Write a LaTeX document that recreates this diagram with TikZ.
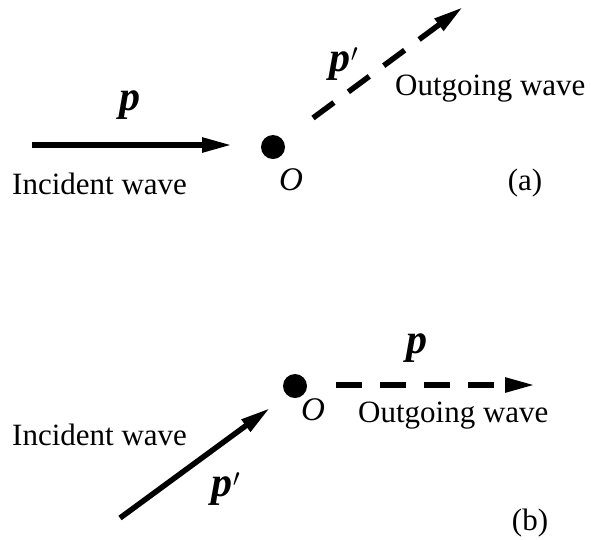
\documentclass[tikz,border=0pt]{standalone}
\usepackage{fontspec}
\setmainfont{Liberation Serif}
\usetikzlibrary{arrows.meta,positioning,calc}

\begin{document}
\begin{tikzpicture}[
    x=1pt, y=-1pt,
    wave/.style={line width=5.5pt, -{Triangle[length=30pt,width=14pt]}},
    outwave/.style={wave, dash pattern=on 26pt off 18pt},
    origin/.style={circle, fill=black, inner sep=0pt, minimum size=24pt},
    lbl/.style={font=\fontsize{31}{31}\selectfont, inner sep=0pt, anchor=base west},
    vec/.style={font=\fontsize{42}{42}\selectfont\bfseries\itshape, inner sep=0pt, anchor=base}
]
    \useasboundingbox (0,0) rectangle (591,539);

    % (a)
    \node[origin] (Oa) at (273,147) {};
    \node[lbl, font=\fontsize{33}{33}\selectfont] (Oalbl) at (279,190) {\textit{O}};
    \coordinate (inA) at (32,145);
    \coordinate (inAend) at (232,145);
    \coordinate (outA) at (313,118);
    \coordinate (outAend) at (463,7);
    \draw[wave] (inA) -- (inAend);
    \draw[outwave] (outA) -- (outAend);
    \node[vec] (pa) at (130,110) {p};
    \node[vec] (pprimeA) at (344,71) {p$'$};
    \node[lbl] (incA) at (12,194) {Incident wave};
    \node[lbl] (outAlbl) at (395,95) {Outgoing wave};
    \node[lbl, anchor=base] (tagA) at (525,190) {(a)};

    % (b)
    \node[origin] (Ob) at (295,386) {};
    \node[lbl, font=\fontsize{33}{33}\selectfont] (Oblbl) at (301,420) {\textit{O}};
    \coordinate (outB) at (336,385);
    \coordinate (outBend) at (535,385);
    \coordinate (inB) at (120,518);
    \coordinate (inBend) at (270,408);
    \draw[outwave] (outB) -- (outBend);
    \draw[wave] (inB) -- (inBend);
    \node[vec] (pb) at (417,353) {p};
    \node[vec] (pprimeB) at (226,496) {p$'$};
    \node[lbl] (outBlbl) at (358,422) {Outgoing wave};
    \node[lbl] (incB) at (12,445) {Incident wave};
    \node[lbl, anchor=base] (tagB) at (530,530) {(b)};
\end{tikzpicture}
\end{document}
